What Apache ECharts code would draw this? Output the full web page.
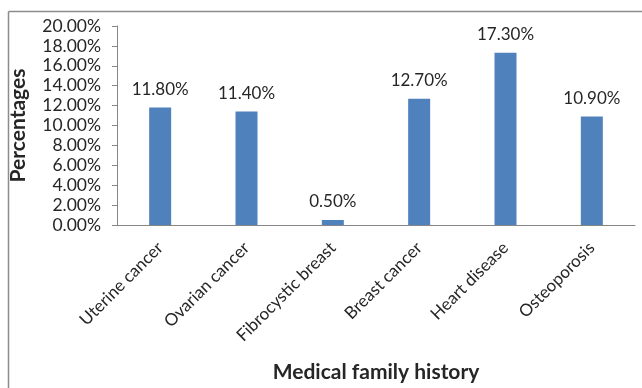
<!DOCTYPE html>
<html>
<head>
<meta charset="utf-8">
<script src="https://cdn.jsdelivr.net/npm/echarts@6/dist/echarts.min.js"></script>
<style>
  html, body { margin: 0; padding: 0; background: #fff; }
  #chart { width: 642px; height: 388px; }
</style>
</head>
<body>
<div id="chart"></div>
<script>
const categories = ["Uterine cancer", "Ovarian cancer", "Fibrocystic breast", "Breast cancer", "Heart disease", "Osteoporosis"];
const percentages = [0.118, 0.114, 0.005, 0.127, 0.173, 0.109];
const yTicks = { min: 0, max: 0.2, interval: 0.02 };

const font = "Lato, 'Open Sans', sans-serif";
const textColor = "#262626";

const chart = echarts.init(document.getElementById("chart"), null, { renderer: "canvas" });

const pct = v => (v * 100).toFixed(2) + "%";

chart.setOption({
  animation: false,
  grid: { left: 110, right: 7, top: 26, bottom: 161 },
  graphic: [
    // outer frame (left and top edges only, as in the picture)
    { type: "line", shape: { x1: 8.5, y1: 11.5, x2: 8.5, y2: 388 }, style: { stroke: "#8c8c8c", lineWidth: 1.5 } },
    { type: "line", shape: { x1: 8.5, y1: 11.5, x2: 642, y2: 11.5 }, style: { stroke: "#8c8c8c", lineWidth: 1.5 } }
  ],
  xAxis: {
    type: "category",
    data: categories,
    name: "Medical family history",
    nameLocation: "middle",
    nameGap: 137,
    nameTextStyle: { fontFamily: font, fontSize: 21, fontWeight: "bold", color: textColor },
    axisLine: { lineStyle: { color: "#868686" } },
    axisTick: { show: false },
    axisLabel: { rotate: 45, margin: 20, fontFamily: font, fontSize: 17, color: textColor, interval: 0 }
  },
  yAxis: {
    type: "value",
    min: yTicks.min,
    max: yTicks.max,
    interval: yTicks.interval,
    name: "Percentages",
    nameLocation: "middle",
    nameGap: 88,
    nameTextStyle: { fontFamily: font, fontSize: 21, fontWeight: "bold", color: textColor },
    axisLine: { show: true, lineStyle: { color: "#868686" } },
    axisTick: { show: true, length: 5, lineStyle: { color: "#868686" } },
    splitLine: { show: false },
    axisLabel: { formatter: pct, margin: 16, fontFamily: font, fontSize: 17.5, color: textColor }
  },
  series: [{
    type: "bar",
    data: percentages,
    barWidth: 22,
    itemStyle: { color: "#4f81bd" },
    label: {
      show: true,
      position: "top",
      distance: 10,
      formatter: p => pct(p.value),
      fontFamily: font,
      fontSize: 17,
      color: textColor
    }
  }]
});
</script>
</body>
</html>
